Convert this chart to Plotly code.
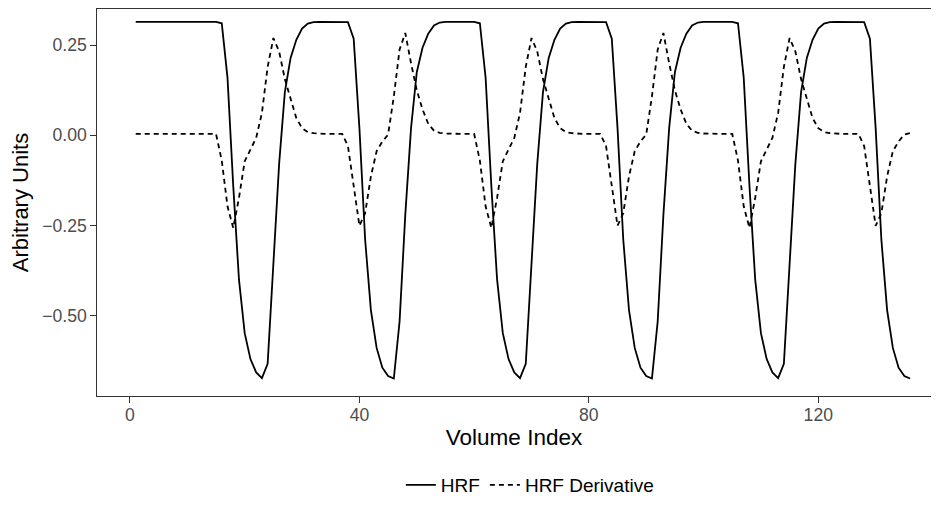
import plotly.graph_objects as go

# volume index 1..136
volume = list(range(1, 137))

# HRF regressor (one row per block cycle)
hrf = [
    0.315, 0.315, 0.315, 0.315, 0.315, 0.315, 0.315, 0.315, 0.315, 0.315,
    0.315, 0.315, 0.315, 0.315, 0.315,
    0.311, 0.160, -0.140, -0.400, -0.549, -0.621, -0.658, -0.674, -0.634, -0.370,
    -0.080, 0.120, 0.215, 0.265, 0.296, 0.310, 0.314, 0.315, 0.315, 0.315, 0.315, 0.315,
    0.314, 0.268, 0.020, -0.290, -0.485, -0.590, -0.645, -0.668, -0.675, -0.517,
    -0.220, 0.020, 0.175, 0.243, 0.282, 0.305, 0.313, 0.315, 0.315, 0.315, 0.315, 0.315, 0.315,
    0.311, 0.160, -0.140, -0.400, -0.549, -0.621, -0.658, -0.674, -0.634, -0.370,
    -0.080, 0.120, 0.215, 0.265, 0.296, 0.310, 0.314, 0.315, 0.315, 0.315, 0.315, 0.315,
    0.314, 0.268, 0.020, -0.290, -0.485, -0.590, -0.645, -0.668, -0.675, -0.517,
    -0.220, 0.020, 0.175, 0.243, 0.282, 0.305, 0.313, 0.315, 0.315, 0.315, 0.315, 0.315, 0.315,
    0.311, 0.160, -0.140, -0.400, -0.549, -0.621, -0.658, -0.674, -0.634, -0.370,
    -0.080, 0.120, 0.215, 0.265, 0.296, 0.310, 0.314, 0.315, 0.315, 0.315, 0.315, 0.315,
    0.314, 0.268, 0.020, -0.290, -0.485, -0.590, -0.645, -0.668, -0.675,
]

# temporal derivative regressor
hrf_deriv = [
    0.004, 0.004, 0.004, 0.004, 0.004, 0.004, 0.004, 0.004, 0.004, 0.004,
    0.004, 0.004, 0.004, 0.004, 0.004,
    -0.070, -0.197, -0.257, -0.174, -0.072, -0.037, -0.007, 0.062, 0.190, 0.270,
    0.233, 0.156, 0.099, 0.048, 0.020, 0.009, 0.006, 0.004, 0.004, 0.004, 0.004, 0.004,
    -0.030, -0.140, -0.251, -0.216, -0.114, -0.044, -0.017, 0.002, 0.108, 0.238,
    0.284, 0.200, 0.125, 0.072, 0.032, 0.013, 0.007, 0.005, 0.004, 0.004, 0.004, 0.004, 0.004,
    -0.070, -0.197, -0.257, -0.174, -0.072, -0.037, -0.007, 0.062, 0.190, 0.270,
    0.233, 0.156, 0.099, 0.048, 0.020, 0.009, 0.006, 0.004, 0.004, 0.004, 0.004, 0.004,
    -0.030, -0.140, -0.251, -0.216, -0.114, -0.044, -0.017, 0.002, 0.108, 0.238,
    0.284, 0.200, 0.125, 0.072, 0.032, 0.013, 0.007, 0.005, 0.004, 0.004, 0.004, 0.004, 0.004,
    -0.070, -0.197, -0.257, -0.174, -0.072, -0.037, -0.007, 0.062, 0.190, 0.270,
    0.233, 0.156, 0.099, 0.048, 0.020, 0.009, 0.006, 0.004, 0.004, 0.004, 0.004, 0.004,
    -0.030, -0.140, -0.251, -0.216, -0.114, -0.044, -0.017, 0.002, 0.006,
]

x_ticks = [0, 40, 80, 120]
y_ticks = [-0.50, -0.25, 0.00, 0.25]

FONT = "Liberation Sans, Arial, sans-serif"

fig = go.Figure()
fig.add_trace(go.Scatter(x=volume, y=hrf, mode="lines", name="HRF",
                         line=dict(color="black", width=1.8)))
fig.add_trace(go.Scatter(x=volume, y=hrf_deriv, mode="lines", name="HRF Derivative",
                         line=dict(color="black", width=1.8, dash="5px,4px")))

# the page body has an 8px margin all round, so keep the figure inside the window
fig.update_layout(
    width=923, height=494,
    margin=dict(l=89, r=0, t=1, b=106, autoexpand=False),
    paper_bgcolor="white", plot_bgcolor="white",
    font=dict(family=FONT, color="black"),
    showlegend=True,
    legend=dict(orientation="h", x=0.519, xanchor="center", y=-0.23, yanchor="middle",
                font=dict(size=19, color="black"), itemwidth=30),
)
fig.update_xaxes(
    range=[-5.75, 139.65], tickvals=x_ticks, ticks="outside", ticklen=5.5,
    tickcolor="#333333", tickwidth=1.1, showgrid=False, zeroline=False,
    showline=True, linecolor="#333333", linewidth=1.4, mirror=True,
    tickfont=dict(size=17.6, color="#4d4d4d"), automargin=False, ticklabelstandoff=-3,
    title=dict(text="Volume Index", font=dict(size=22.5, color="black"), standoff=4),
)
fig.update_yaxes(
    range=[-0.7235, 0.3506], tickvals=y_ticks, tickformat=".2f", ticks="outside",
    ticklen=5.5, tickcolor="#333333", tickwidth=1.1, showgrid=False, zeroline=False,
    showline=True, linecolor="#333333", linewidth=1.4, mirror=False,
    tickfont=dict(size=17.6, color="#4d4d4d"), automargin=False,
    title=dict(text="Arbitrary Units", font=dict(size=22, color="black"), standoff=10),
)

fig.write_html("out.html")
